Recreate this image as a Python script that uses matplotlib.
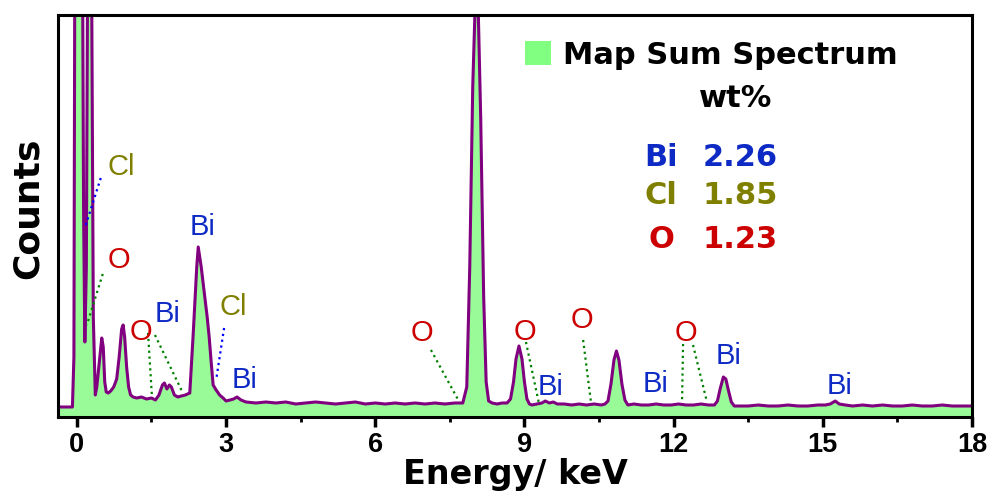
import matplotlib
matplotlib.use("Agg")
import matplotlib.pyplot as plt
from matplotlib.patches import Patch

plt.rcParams['font.family'] = ['Liberation Sans', 'DejaVu Sans']
BOLD_WIDE = ['DejaVu Sans']  # wider bold face for labels / table

# EDS spectrum, energy in keV, counts in arbitrary units
energy = [
    -0.38, -0.09, -0.06, -0.04, 0.04, 0.11, 0.135, 0.16, 0.19, 0.22, 0.255, 0.29,
    0.33, 0.37, 0.40, 0.45, 0.50, 0.53, 0.56, 0.59, 0.63, 0.68, 0.74, 0.80,
    0.85, 0.90, 0.93, 0.96, 1.00, 1.04, 1.08, 1.13, 1.20, 1.30, 1.40, 1.50,
    1.58, 1.65, 1.72, 1.76, 1.81, 1.86, 1.90, 1.96, 2.03, 2.10, 2.18, 2.27,
    2.34, 2.41, 2.44, 2.50, 2.56, 2.62, 2.66, 2.70, 2.74, 2.80, 2.87, 2.94,
    3.00, 3.08, 3.15, 3.22, 3.30, 3.40, 3.60, 3.80, 4.00, 4.20, 4.40, 4.60,
    4.80, 5.00, 5.20, 5.40, 5.60, 5.80, 6.00, 6.20, 6.40, 6.60, 6.80, 7.00,
    7.20, 7.40, 7.60, 7.76, 7.84, 7.90, 7.96, 8.02, 8.06, 8.12, 8.18, 8.23,
    8.28, 8.35, 8.45, 8.55, 8.65, 8.72, 8.78, 8.83, 8.89, 8.95, 9.00, 9.05,
    9.10, 9.15, 9.25, 9.35, 9.42, 9.50, 9.58, 9.66, 9.80, 9.95, 10.10, 10.25,
    10.40, 10.55, 10.62, 10.68, 10.74, 10.80, 10.85, 10.90, 10.96, 11.02, 11.08, 11.20,
    11.35, 11.50, 11.65, 11.80, 11.95, 12.10, 12.25, 12.40, 12.55, 12.70, 12.82, 12.88,
    12.94, 13.00, 13.05, 13.10, 13.16, 13.22, 13.35, 13.50, 13.70, 13.90, 14.10, 14.30,
    14.50, 14.70, 14.90, 15.05, 15.15, 15.25, 15.33, 15.45, 15.60, 15.80, 16.00, 16.20,
    16.40, 16.60, 16.80, 17.00, 17.20, 17.40, 17.60, 17.80, 18.00,
]
counts = [
    10, 10, 60, 500, 900, 500, 200, 75, 150, 500, 800, 500,
    100, 22, 30, 55, 79, 70, 35, 25, 24, 26, 30, 38,
    60, 88, 92, 80, 50, 30, 22, 20, 19, 20, 18, 19,
    17, 22, 32, 34, 28, 32, 30, 22, 20, 21, 22, 24,
    84, 150, 170, 150, 125, 100, 80, 55, 32, 27, 22, 19,
    16, 17, 18, 20, 17, 15, 14, 15, 14, 15, 13, 14,
    15, 14, 13, 14, 15, 13, 14, 13, 14, 13, 14, 13,
    14, 13, 14, 14, 30, 150, 330, 430, 430, 300, 120, 35,
    16, 14, 13, 14, 14, 18, 35, 58, 71, 58, 35, 18,
    13, 12, 13, 14, 16, 14, 15, 13, 13, 12, 13, 12,
    13, 12, 13, 16, 33, 57, 66, 57, 33, 17, 12, 13,
    12, 12, 13, 12, 12, 13, 12, 12, 13, 12, 12, 16,
    29, 40, 38, 27, 15, 11, 11, 11, 12, 11, 11, 12,
    11, 11, 12, 12, 13, 16, 13, 12, 11, 12, 11, 12,
    11, 11, 12, 11, 11, 12, 11, 11, 11,
]

# peak labels and their dotted leader lines
lbl_text = ['Cl', 'O', 'O', 'Bi', 'Bi', 'Cl', 'Bi', 'O', 'O', 'Bi', 'O', 'Bi', 'O', 'Bi', 'Bi']
lbl_x = [0.885, 0.845, 1.29, 1.83, 2.53, 3.14, 3.38, 6.94, 9.01, 9.53, 10.16, 11.63, 12.25, 13.11, 15.33]
lbl_y = [253, 160, 88, 106, 193, 113, 40, 87, 88, 33, 100, 36, 87, 64, 34]

leaders = [  # (x0, y0, x1, y1, colour)
    (0.48, 239, 0.16, 189, 'blue'),
    (0.52, 143, 0.20, 92, 'green'),
    (1.43, 84, 1.51, 20, 'green'),
    (1.57, 82, 2.13, 24, 'green'),
    (2.96, 89, 2.80, 37, 'blue'),
    (7.12, 67, 7.68, 16, 'green'),
    (9.03, 75, 9.29, 14, 'green'),
    (10.18, 77, 10.34, 14, 'green'),
    (12.19, 73, 12.17, 17, 'green'),
    (12.39, 72, 12.67, 15, 'green'),
]

# composition table
elements = ['Bi', 'Cl', 'O']
wt_pct = ['2.26', '1.85', '1.23']

colors = {'Bi': '#0d2ac4', 'Cl': '#808000', 'O': '#cc0000',
          'blue': '#0000ff', 'green': '#008000'}

fig = plt.figure(figsize=(9.94, 4.97), dpi=100)
ax = fig.add_axes([58 / 994, 80 / 497, 914 / 994, 402 / 497])

ax.fill_between(energy, counts, 0, color='#98fb98', lw=0)
ax.plot(energy, counts, color='#800080', lw=2.2)

for x0, y0, x1, y1, c in leaders:
    ax.plot([x0, x1], [y0, y1], ls=':', color=colors[c], lw=1.6)

for t, x, y in zip(lbl_text, lbl_x, lbl_y):
    ax.text(x, y - 3, t, color=colors[t], fontsize=21, ha='center', va='center')

# table
ax.text(13.25, 322 - 3, 'wt%', fontsize=22, fontweight='bold', family=BOLD_WIDE,
        ha='center', va='center')
rows_y = [263, 225, 180]
for e, v, y in zip(elements, wt_pct, rows_y):
    ax.text(11.75, y - 3, e, color=colors[e], fontsize=22, fontweight='bold', family=BOLD_WIDE,
            ha='center', va='center')
    ax.text(12.59, y - 3, v, color=colors[e], fontsize=22, fontweight='bold', family=BOLD_WIDE,
            ha='left', va='center')

ax.legend(handles=[Patch(facecolor='#80ff80', edgecolor='none')], labels=['Map Sum Spectrum'],
          loc='center left', bbox_to_anchor=(0.511, 0.90), frameon=False,
          borderpad=0, borderaxespad=0, handlelength=0.85, handleheight=0.85,
          handletextpad=0.4, prop=dict(weight='bold', size=22, family=BOLD_WIDE))

ax.set_xlim(-0.38, 18)
ax.set_ylim(0, 402)
ax.set_xticks(range(0, 19, 3))
ax.set_xticks([1.5 + 3 * i for i in range(6)], minor=True)
ax.set_yticks([])
ax.tick_params(axis='x', which='major', direction='out', length=7, width=2.5, labelsize=19.5, pad=4)
ax.tick_params(axis='x', which='minor', direction='out', length=3.5, width=2)
for lab in ax.get_xticklabels():
    lab.set_fontweight('bold')
for s in ax.spines.values():
    s.set_linewidth(2.2)

ax.set_xlabel('Energy/ keV', fontsize=24, fontweight='bold', family=BOLD_WIDE, labelpad=0)
ax.set_ylabel('Counts', fontsize=26, fontweight='bold', family=BOLD_WIDE)
ax.yaxis.set_label_coords(-0.014, 0.52)

fig.savefig('out.png', dpi=100)
